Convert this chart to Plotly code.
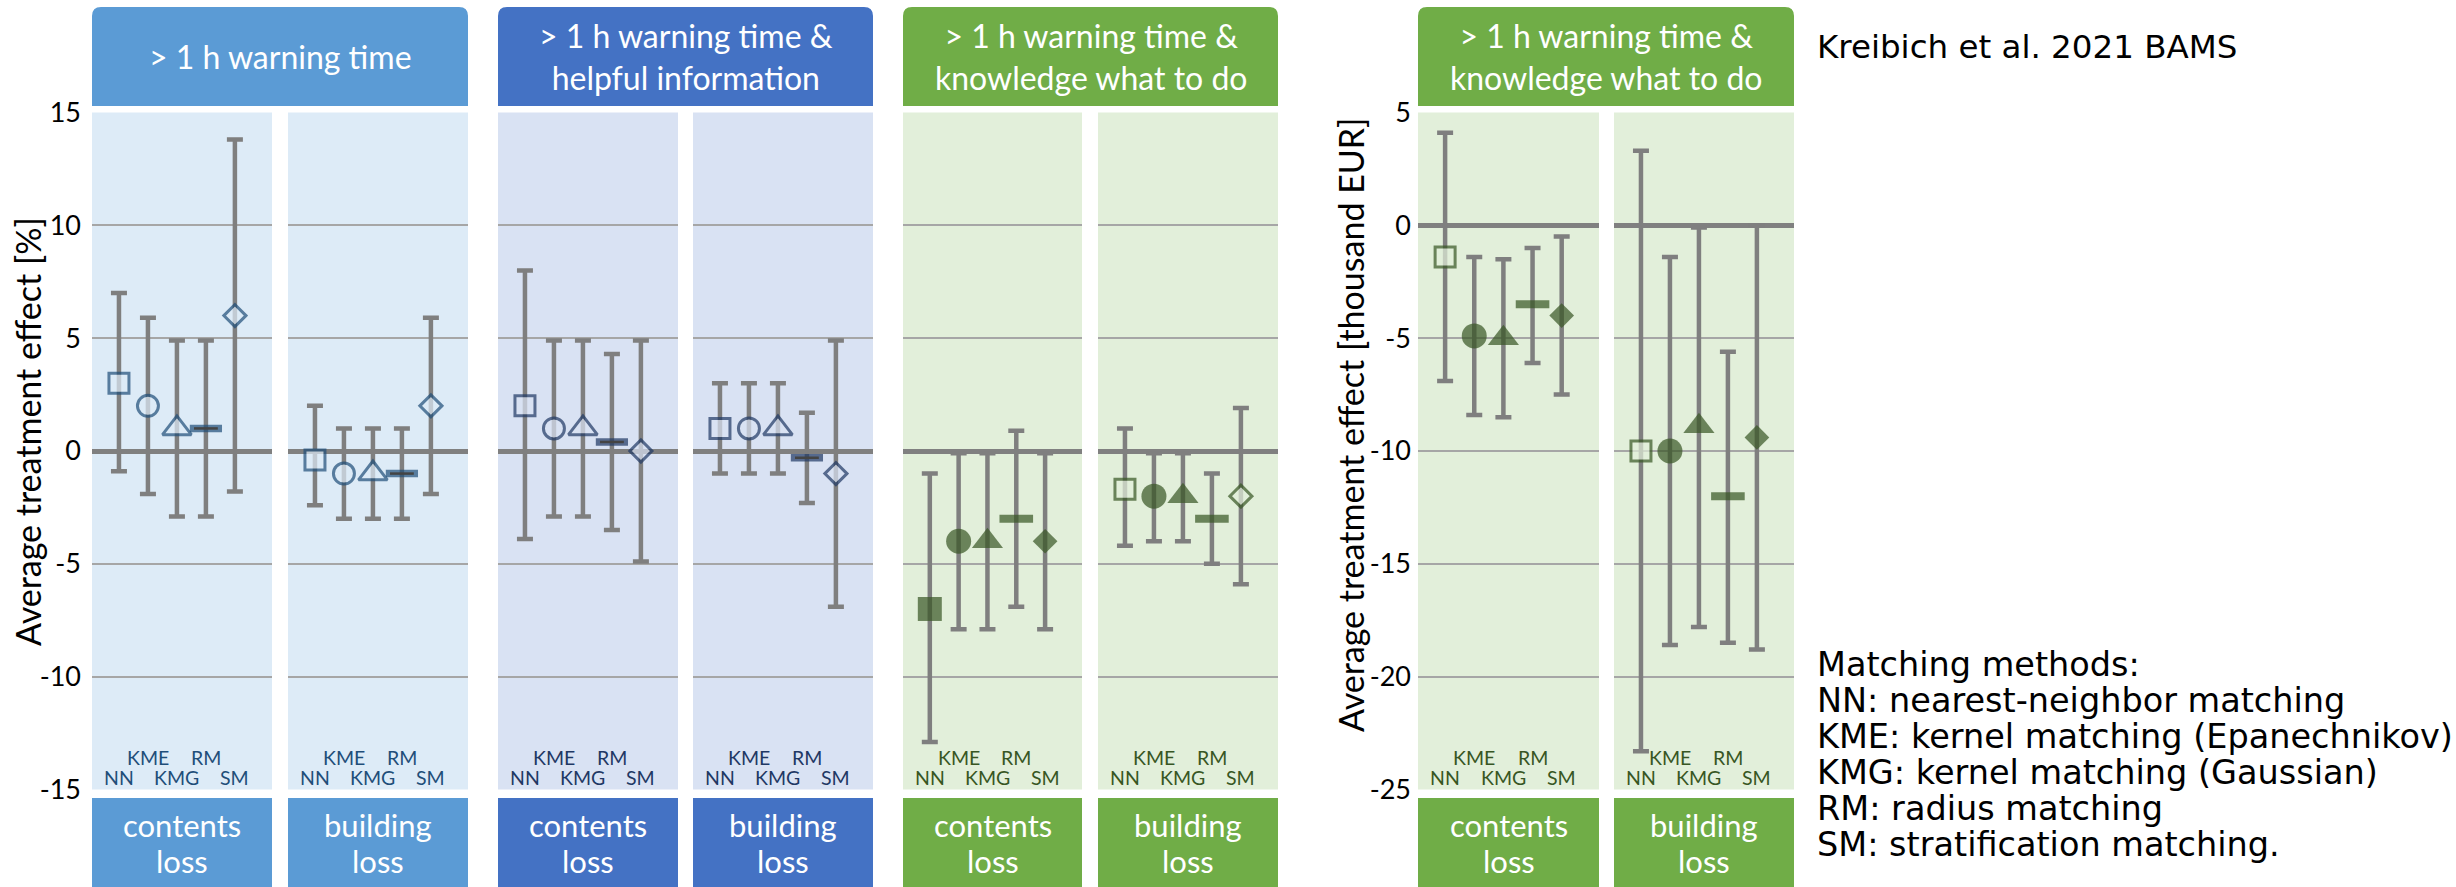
import plotly.graph_objects as go

W, H = 2456, 887

# ---------------- data ----------------
methods = ["NN", "KME", "KMG", "RM", "SM"]
method_x = [1, 2, 3, 4, 5]
label_row = [0, 1, 0, 1, 0]          # 0 = lower row, 1 = upper row

y_pct_ticks = [-15, -10, -5, 0, 5, 10, 15]
y_pct_ticktext = ["-15", "-10", "-5", "0", "5", "10", "15"]
y_eur_ticks = [-25, -20, -15, -10, -5, 0, 5]
y_eur_ticktext = ["-25", "-20", "-15", "-10", "-5", "0", "5"]

# > 1 h warning time  [%]
warn_contents = [3.0, 2.0, 1.0, 1.0, 6.0]
warn_contents_hi = [7.0, 5.9, 4.9, 4.9, 13.8]
warn_contents_lo = [-0.9, -1.9, -2.9, -2.9, -1.8]
warn_contents_sig = [0, 0, 0, 0, 0]
warn_building = [-0.4, -1.0, -1.0, -1.0, 2.0]
warn_building_hi = [2.0, 1.0, 1.0, 1.0, 5.9]
warn_building_lo = [-2.4, -3.0, -3.0, -3.0, -1.9]
warn_building_sig = [0, 0, 0, 0, 0]

# > 1 h warning time & helpful information  [%]
info_contents = [2.0, 1.0, 1.0, 0.4, 0.0]
info_contents_hi = [8.0, 4.9, 4.9, 4.3, 4.9]
info_contents_lo = [-3.9, -2.9, -2.9, -3.5, -4.9]
info_contents_sig = [0, 0, 0, 0, 0]
info_building = [1.0, 1.0, 1.0, -0.3, -1.0]
info_building_hi = [3.0, 3.0, 3.0, 1.7, 4.9]
info_building_lo = [-1.0, -1.0, -1.0, -2.3, -6.9]
info_building_sig = [0, 0, 0, 0, 0]

# > 1 h warning time & knowledge what to do  [%]
know_contents = [-7.0, -4.0, -4.0, -3.0, -4.0]
know_contents_hi = [-1.0, -0.1, -0.1, 0.9, -0.1]
know_contents_lo = [-12.9, -7.9, -7.9, -6.9, -7.9]
know_contents_sig = [1, 1, 1, 1, 1]
know_building = [-1.7, -2.0, -2.0, -3.0, -2.0]
know_building_hi = [1.0, -0.1, -0.1, -1.0, 1.9]
know_building_lo = [-4.2, -4.0, -4.0, -5.0, -5.9]
know_building_sig = [0, 1, 1, 1, 0]

# > 1 h warning time & knowledge what to do  [thousand EUR]
eur_contents = [-1.4, -4.9, -5.0, -3.5, -4.0]
eur_contents_hi = [4.1, -1.4, -1.5, -1.0, -0.5]
eur_contents_lo = [-6.9, -8.4, -8.5, -6.1, -7.5]
eur_contents_sig = [0, 1, 1, 1, 1]
eur_building = [-10.0, -10.0, -8.9, -12.0, -9.4]
eur_building_hi = [3.3, -1.4, -0.1, -5.6, 0.0]
eur_building_lo = [-23.3, -18.6, -17.8, -18.5, -18.8]
eur_building_sig = [0, 1, 1, 1, 1]

group_titles = ["> 1 h warning time",
                "> 1 h warning time &<br>helpful information",
                "> 1 h warning time &<br>knowledge what to do",
                "> 1 h warning time &<br>knowledge what to do"]
loss_labels = ["contents", "building"]
y_title_pct = "Average treatment effect [%]"
y_title_eur = "Average treatment effect [thousand EUR]"
source_text = "Kreibich et al. 2021 BAMS"
legend_lines = ["Matching methods:",
                "NN: nearest-neighbor matching",
                "KME: kernel matching (Epanechnikov)",
                "KMG: kernel matching (Gaussian)",
                "RM: radius matching",
                "SM: stratification matching."]

# ---------------- styling ----------------
BLUE1_HEAD, BLUE1_BG, BLUE1_MK = "#5B9BD5", "#DDEBF7", "#1F4E79"
BLUE2_HEAD, BLUE2_BG, BLUE2_MK = "#4472C4", "#D9E2F3", "#1F3864"
GREEN_HEAD, GREEN_BG, GREEN_MK = "#70AD47", "#E2EFDA", "#375623"
ERR = "#7F7F7F"
FONT = "Lato"
FONT2 = "DejaVu Sans"

panels = [
    dict(px=(92, 272), bg=BLUE1_BG, mk=BLUE1_MK, v=warn_contents, hi=warn_contents_hi, lo=warn_contents_lo, sig=warn_contents_sig, loss=0),
    dict(px=(288, 468), bg=BLUE1_BG, mk=BLUE1_MK, v=warn_building, hi=warn_building_hi, lo=warn_building_lo, sig=warn_building_sig, loss=1),
    dict(px=(498, 678), bg=BLUE2_BG, mk=BLUE2_MK, v=info_contents, hi=info_contents_hi, lo=info_contents_lo, sig=info_contents_sig, loss=0),
    dict(px=(693, 873), bg=BLUE2_BG, mk=BLUE2_MK, v=info_building, hi=info_building_hi, lo=info_building_lo, sig=info_building_sig, loss=1),
    dict(px=(903, 1082), bg=GREEN_BG, mk=GREEN_MK, v=know_contents, hi=know_contents_hi, lo=know_contents_lo, sig=know_contents_sig, loss=0),
    dict(px=(1098, 1278), bg=GREEN_BG, mk=GREEN_MK, v=know_building, hi=know_building_hi, lo=know_building_lo, sig=know_building_sig, loss=1),
    dict(px=(1418, 1599), bg=GREEN_BG, mk=GREEN_MK, v=eur_contents, hi=eur_contents_hi, lo=eur_contents_lo, sig=eur_contents_sig, loss=0),
    dict(px=(1614, 1794), bg=GREEN_BG, mk=GREEN_MK, v=eur_building, hi=eur_building_hi, lo=eur_building_lo, sig=eur_building_sig, loss=1),
]
panel_head = [BLUE1_HEAD, BLUE1_HEAD, BLUE2_HEAD, BLUE2_HEAD, GREEN_HEAD, GREEN_HEAD, GREEN_HEAD, GREEN_HEAD]
groups = [((92, 468), BLUE1_HEAD), ((498, 873), BLUE2_HEAD), ((903, 1278), GREEN_HEAD), ((1418, 1794), GREEN_HEAD)]

PLOT_TOP, PLOT_BOT = 112.5, 789.5


def px_x(x):
    return x / W


def px_y(y):
    return 1 - y / H


symbols = ["square", "circle", "triangle-up", "line-ew", "diamond"]
size_open = [20, 21, 25, 22, 17]
size_fill = [24, 25, 27, 24, 19]

fig = go.Figure()
shapes = []
annotations = []

for i, p in enumerate(panels):
    xa = "x" if i == 0 else f"x{i + 1}"
    ya = "y" if i < 6 else "y2"
    colors, lcolors, lwidths, sizes = [], [], [], []
    for k in range(5):
        filled = p["sig"][k] == 1
        if symbols[k] == "line-ew":
            colors.append(p["mk"])
            lwidths.append(8 if filled else 7.5)
            sizes.append(24 if filled else 23)
        else:
            colors.append(p["mk"] if filled else p["bg"])
            lwidths.append(0 if filled else 3)
            sizes.append(size_fill[k] if filled else size_open[k])
        lcolors.append(p["mk"])
    plus = [round(h - v, 3) for h, v in zip(p["hi"], p["v"])]
    minus = [round(v - l, 3) for v, l in zip(p["v"], p["lo"])]
    fig.add_trace(go.Scatter(
        x=method_x, y=p["v"], xaxis=xa, yaxis=ya, mode="markers",
        marker=dict(symbol=symbols, color=colors, size=sizes,
                    line=dict(color=lcolors, width=lwidths)),
        error_y=dict(type="data", symmetric=False, array=plus, arrayminus=minus,
                     color=ERR, thickness=4.5, width=8),
        showlegend=False, hoverinfo="skip"))
    k = 3
    if p["sig"][k] == 0:
        fig.add_trace(go.Scatter(
            x=[method_x[k]], y=[p["v"][k]], xaxis=xa, yaxis=ya, mode="markers",
            marker=dict(symbol="line-ew", color=p["bg"], size=17, line=dict(width=2.5)),
            showlegend=False, hoverinfo="skip"))

    x0, x1 = p["px"]
    shapes.append(dict(type="rect", xref="paper", yref="paper", layer="below",
                       x0=px_x(x0), x1=px_x(x1), y0=px_y(PLOT_BOT), y1=px_y(PLOT_TOP),
                       fillcolor=p["bg"], line=dict(width=0)))
    shapes.append(dict(type="rect", xref="paper", yref="paper", layer="below",
                       x0=px_x(x0), x1=px_x(x1), y0=0, y1=px_y(798),
                       fillcolor=panel_head[i], line=dict(width=0)))
    cx = px_x((x0 + x1) / 2)
    annotations.append(dict(xref="paper", yref="paper", x=cx, y=px_y(825), text=loss_labels[p["loss"]],
                            showarrow=False, xanchor="center", yanchor="middle",
                            font=dict(family=FONT, size=31, color="white")))
    annotations.append(dict(xref="paper", yref="paper", x=cx, y=px_y(861), text="loss",
                            showarrow=False, xanchor="center", yanchor="middle",
                            font=dict(family=FONT, size=31, color="white")))
    for k in range(5):
        yy = 757.5 if label_row[k] == 1 else 777.5
        annotations.append(dict(xref=xa, yref="paper", x=method_x[k], y=px_y(yy), text=methods[k],
                                showarrow=False, xanchor="center", yanchor="middle",
                                font=dict(family=FONT, size=19.5, color=p["mk"])))

R = 9
for gi, ((x0, x1), col) in enumerate(groups):
    top, bot = 7, 106
    path = (f"M {px_x(x0)},{px_y(bot)} L {px_x(x0)},{px_y(top + R)} "
            f"Q {px_x(x0)},{px_y(top)} {px_x(x0 + R)},{px_y(top)} "
            f"L {px_x(x1 - R)},{px_y(top)} Q {px_x(x1)},{px_y(top)} {px_x(x1)},{px_y(top + R)} "
            f"L {px_x(x1)},{px_y(bot)} Z")
    shapes.append(dict(type="path", xref="paper", yref="paper", path=path,
                       fillcolor=col, line=dict(width=0), layer="below"))
    annotations.append(dict(xref="paper", yref="paper", x=px_x((x0 + x1) / 2), y=px_y(56),
                            text=group_titles[gi], showarrow=False, xanchor="center", yanchor="middle",
                            font=dict(family=FONT, size=32, color="white")))

annotations.append(dict(xref="paper", yref="paper", x=px_x(27), y=px_y(432), text=y_title_pct,
                        textangle=-90, showarrow=False, xanchor="center", yanchor="middle",
                        font=dict(family=FONT, size=34, color="black")))
annotations.append(dict(xref="paper", yref="paper", x=px_x(1350), y=px_y(425), text=y_title_eur,
                        textangle=-90, showarrow=False, xanchor="center", yanchor="middle",
                        font=dict(family=FONT, size=34, color="black")))

annotations.append(dict(xref="paper", yref="paper", x=px_x(1815), y=px_y(47), text=source_text,
                        showarrow=False, xanchor="left", yanchor="middle",
                        font=dict(family=FONT2, size=32.5, color="black")))
for li, line in enumerate(legend_lines):
    annotations.append(dict(xref="paper", yref="paper", x=px_x(1815), y=px_y(664 + 36 * li), text=line,
                            showarrow=False, xanchor="left", yanchor="middle",
                            font=dict(family=FONT2, size=33.5, color="black")))

layout = dict(
    width=W, height=H, autosize=False,
    margin=dict(l=0, r=0, t=0, b=0, pad=0, autoexpand=False),
    paper_bgcolor="white", plot_bgcolor="rgba(0,0,0,0)",
    shapes=shapes, annotations=annotations, showlegend=False,
)
for i, p in enumerate(panels):
    key = "xaxis" if i == 0 else f"xaxis{i + 1}"
    layout[key] = dict(domain=[px_x(p["px"][0]), px_x(p["px"][1])], range=[0.07, 6.28],
                       visible=False, fixedrange=True, automargin=False,
                       anchor="y" if i < 6 else "y2")

ydom = [px_y(PLOT_BOT), px_y(PLOT_TOP)]
common_y = dict(domain=ydom, showgrid=True, gridcolor="#A6A6A6", gridwidth=1.5,
                zeroline=True, zerolinecolor="#808080", zerolinewidth=4.5,
                showline=False, ticks="", tickmode="array", fixedrange=True, automargin=False,
                tickfont=dict(family=FONT, size=27, color="black"))
layout["yaxis"] = dict(common_y, anchor="x", range=[-15, 15], tickvals=y_pct_ticks,
                       ticktext=y_pct_ticktext, ticklabelstandoff=10)
layout["yaxis2"] = dict(common_y, anchor="x7", range=[-25, 5], tickvals=y_eur_ticks,
                        ticktext=y_eur_ticktext, ticklabelstandoff=6)

fig.update_layout(**layout)
fig.write_html("out.html",
               config={"displayModeBar": False, "responsive": False},
               post_script="document.body.style.margin='0';document.body.style.overflow='hidden';"
                           "document.documentElement.style.overflow='hidden';")
